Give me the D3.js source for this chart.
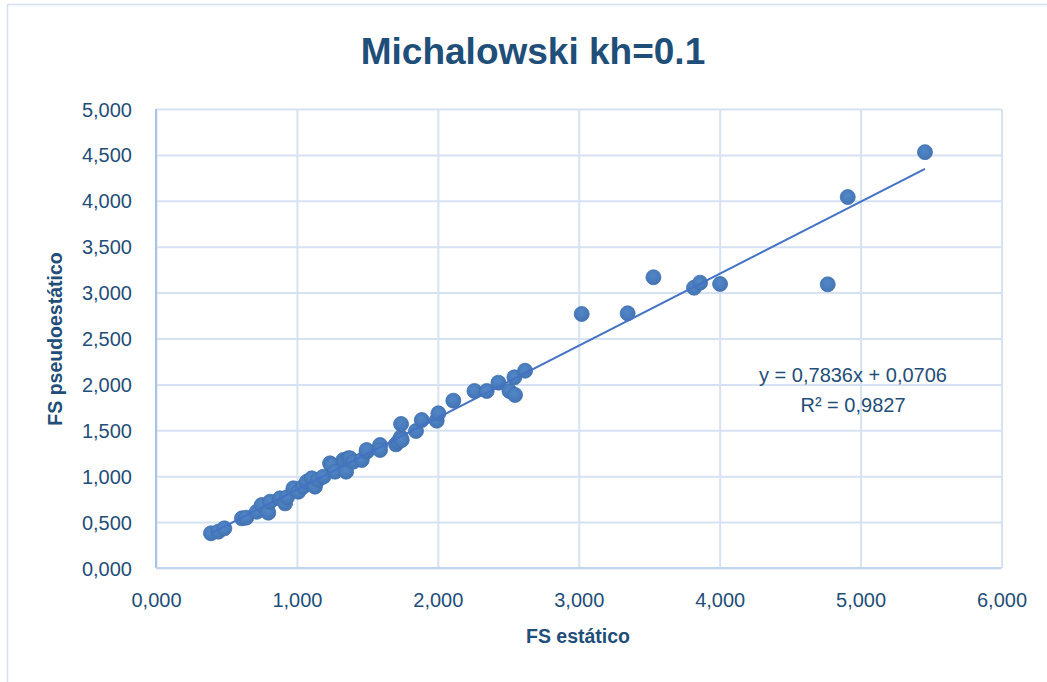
<!DOCTYPE html>
<html>
<head>
<meta charset="utf-8">
<script src="https://cdn.jsdelivr.net/npm/d3@7"></script>
<style>
  body { margin: 0; background: #fff; }
  svg { display: block; font-family: "Liberation Sans", Arial, sans-serif; }
</style>
</head>
<body>
<svg id="chart" width="1047" height="682"></svg>
<script>
// === Michalowski kh=0.1 scatter ===

// FS estático (x) and FS pseudoestático (y)
const fsEstatico = [
  0.390, 0.442, 0.485, 0.610, 0.640, 0.715, 0.750, 0.797, 0.809, 0.880,
  0.916, 0.930, 0.975, 1.010, 1.045, 1.070, 1.105, 1.128, 1.150, 1.188,
  1.235, 1.247, 1.270, 1.329, 1.341, 1.349, 1.365, 1.377, 1.400, 1.460,
  1.495, 1.495, 1.590, 1.590, 1.703, 1.720, 1.737, 1.744, 1.739, 1.845,
  1.886, 1.992, 2.004, 2.110, 2.260, 2.347, 2.430, 2.508, 2.548, 2.543,
  2.619, 3.021, 3.347, 3.530, 3.818, 3.861, 4.003, 4.767, 4.909, 5.457
];
const fsPseudo = [
  0.378, 0.396, 0.432, 0.541, 0.548, 0.613, 0.686, 0.603, 0.722, 0.759,
  0.704, 0.770, 0.868, 0.831, 0.886, 0.940, 0.977, 0.886, 0.960, 0.995,
  1.140, 1.122, 1.049, 1.176, 1.158, 1.049, 1.195, 1.195, 1.158, 1.176,
  1.267, 1.285, 1.340, 1.285, 1.347, 1.376, 1.424, 1.394, 1.569, 1.492,
  1.612, 1.605, 1.685, 1.823, 1.928, 1.928, 2.019, 1.928, 1.885, 2.077,
  2.149, 2.767, 2.774, 3.167, 3.053, 3.108, 3.094, 3.090, 4.041, 4.530
];

// linear trendline shown on the chart
const slope = 0.7836;
const intercept = 0.0706;
const eqLines = ["y = 0,7836x + 0,0706", "R\u00B2 = 0,9827"];

const xTicks = [0, 1, 2, 3, 4, 5, 6];
const yTicks = [0, 0.5, 1, 1.5, 2, 2.5, 3, 3.5, 4, 4.5, 5];

const textColor = "#1f4e79";
const gridColor = "#d6e2f2";

const margin = { top: 109, right: 45.5, bottom: 114, left: 156 };
const W = 1047, H = 682;
const width = W - margin.left - margin.right;
const height = H - margin.top - margin.bottom;

const svg = d3.select("#chart");

// chart outer border (runs off the right and bottom edge)
svg.append("rect")
  .attr("x", 7.5).attr("y", 4.5)
  .attr("width", W + 10).attr("height", H + 10)
  .attr("fill", "none")
  .attr("stroke", "#d5e1f0")
  .attr("stroke-width", 1.5);

const locale = d3.formatLocale({ decimal: ",", thousands: ".", grouping: [3], currency: ["", ""] });
const fmt = locale.format(".3f");

const x = d3.scaleLinear().domain([0, 6]).range([0, width]);
const y = d3.scaleLinear().domain([0, 5]).range([height, 0]);

const g = svg.append("g").attr("transform", `translate(${margin.left},${margin.top})`);

// gridlines
g.append("g")
  .attr("class", "grid-x")
  .attr("transform", `translate(0,${height})`)
  .call(d3.axisBottom(x).tickValues(xTicks).tickSize(-height).tickFormat(""))
  .call(sel => sel.select(".domain").remove())
  .call(sel => sel.selectAll("line").attr("stroke", gridColor).attr("stroke-width", 2));

g.append("g")
  .attr("class", "grid-y")
  .call(d3.axisLeft(y).tickValues(yTicks).tickSize(-width).tickFormat(""))
  .call(sel => sel.select(".domain").remove())
  .call(sel => sel.selectAll("line").attr("stroke", gridColor).attr("stroke-width", 2));

// axis lines
g.append("line")
  .attr("x1", 0).attr("x2", 0).attr("y1", 0).attr("y2", height)
  .attr("stroke", "#a9c3e6").attr("stroke-width", 2);
g.append("line")
  .attr("x1", 0).attr("x2", width).attr("y1", height).attr("y2", height)
  .attr("stroke", "#c3d5ee").attr("stroke-width", 2);

// tick labels
const xAxis = g.append("g")
  .attr("transform", `translate(0,${height})`)
  .call(d3.axisBottom(x).tickValues(xTicks).tickSize(0).tickPadding(0).tickFormat(fmt));
xAxis.select(".domain").remove();
xAxis.selectAll("text")
  .attr("y", 39)
  .attr("dy", 0)
  .attr("fill", textColor)
  .attr("font-size", 20)
  .attr("font-family", "Liberation Sans, Arial, sans-serif");

const yAxis = g.append("g")
  .call(d3.axisLeft(y).tickValues(yTicks).tickSize(0).tickPadding(24).tickFormat(fmt));
yAxis.select(".domain").remove();
yAxis.selectAll("text")
  .attr("dy", "0.35em")
  .attr("fill", textColor)
  .attr("font-size", 20)
  .attr("font-family", "Liberation Sans, Arial, sans-serif");

// points
const pts = fsEstatico.map((d, i) => ({ x: d, y: fsPseudo[i] }));

const defs = svg.append("defs");
const grad = defs.append("radialGradient")
  .attr("id", "dotGrad")
  .attr("cx", "45%").attr("cy", "40%").attr("r", "60%");
grad.append("stop").attr("offset", "0%").attr("stop-color", "#5288c8");
grad.append("stop").attr("offset", "100%").attr("stop-color", "#4374b4");

g.append("g")
  .selectAll("circle")
  .data(pts)
  .enter()
  .append("circle")
  .attr("cx", d => x(d.x))
  .attr("cy", d => y(d.y))
  .attr("r", 7.5)
  .attr("fill", "url(#dotGrad)")
  .attr("stroke", "#4170ad")
  .attr("stroke-width", 0.8);

// trendline over the range of the data
const xr = d3.extent(fsEstatico);
g.append("line")
  .attr("x1", x(xr[0])).attr("y1", y(slope * xr[0] + intercept))
  .attr("x2", x(xr[1])).attr("y2", y(slope * xr[1] + intercept))
  .attr("stroke", "#4472c4")
  .attr("stroke-width", 2);

// equation label
svg.append("g")
  .selectAll("text")
  .data(eqLines)
  .enter()
  .append("text")
  .attr("x", 853)
  .attr("y", (d, i) => 382 + i * 30)
  .attr("text-anchor", "middle")
  .attr("fill", textColor)
  .attr("font-size", 20)
  .text(d => d);

// title
svg.append("text")
  .attr("x", 533).attr("y", 64)
  .attr("text-anchor", "middle")
  .attr("fill", textColor)
  .attr("font-size", 37)
  .attr("font-weight", "bold")
  .text("Michalowski kh=0.1");

// axis titles
svg.append("text")
  .attr("x", 578).attr("y", 643)
  .attr("text-anchor", "middle")
  .attr("fill", textColor)
  .attr("font-size", 19.5)
  .attr("font-weight", "bold")
  .text("FS estático");

svg.append("text")
  .attr("transform", "translate(62,339) rotate(-90)")
  .attr("text-anchor", "middle")
  .attr("fill", textColor)
  .attr("font-size", 19.5)
  .attr("font-weight", "bold")
  .text("FS pseudoestático");
</script>
</body>
</html>
